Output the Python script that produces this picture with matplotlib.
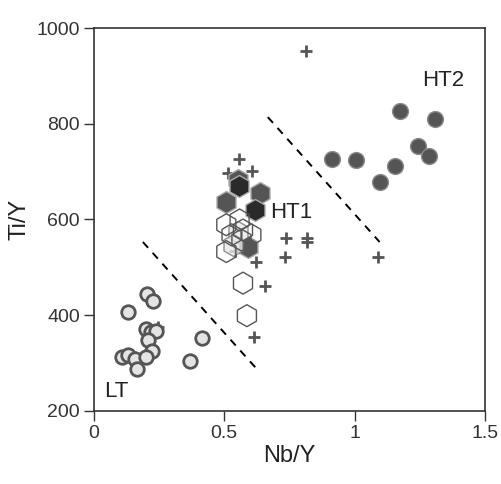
import matplotlib.pyplot as plt

plt.rcParams['font.family'] = ['Liberation Sans', 'DejaVu Sans']

# LT group (open circles)
lt_x = [0.204, 0.227, 0.129, 0.199, 0.218, 0.240, 0.208, 0.223, 0.106, 0.129, 0.157, 0.199, 0.164, 0.413, 0.368]
lt_y = [444, 430, 406, 371, 364, 367, 348, 325, 312, 317, 308, 312, 288, 352, 305]

# HT2 group (dark filled circles)
ht2_x = [1.176, 1.309, 1.243, 1.287, 1.154, 1.098, 1.004, 0.915]
ht2_y = [827, 811, 754, 733, 712, 679, 724, 726]

# HT1 group, dark hexagons
ht1d_x = [0.553, 0.506, 0.636, 0.591]
ht1d_y = [683, 637, 655, 542]
# HT1 group, black hexagons
ht1b_x = [0.556, 0.617]
ht1b_y = [669, 620]
# HT1 group, open hexagons
ht1o_x = [0.559, 0.508, 0.528, 0.604, 0.572, 0.508, 0.566, 0.572, 0.587]
ht1o_y = [599, 589, 568, 568, 578, 533, 557, 467, 399]
# HT1 group, pale hexagons
ht1p_x = [0.552, 0.533]
ht1p_y = [574, 547]

# other samples (crosses)
px = [0.557, 0.607, 0.515, 0.736, 0.817, 0.817, 0.734, 0.623, 0.655, 0.613, 0.540, 0.812, 1.088, 0.246]
py = [726, 702, 697, 561, 561, 552, 522, 511, 462, 355, 535, 952, 522, 376]

# dividing lines
line1_x = [0.188, 0.621]
line1_y = [553, 290]
line2_x = [0.667, 1.096]
line2_y = [814, 553]

fig = plt.figure(figsize=(5.02, 4.84), dpi=100)
ax = fig.add_axes([0.187, 0.151, 0.779, 0.791])

ax.plot(line1_x, line1_y, color='black', lw=1.4, ls=(0, (4, 3.5)))
ax.plot(line2_x, line2_y, color='black', lw=1.4, ls=(0, (4, 3.5)))

ax.scatter(px, py, marker='+', s=65, color='#555555', linewidths=2, zorder=2)

ax.scatter(lt_x, lt_y, s=95, facecolor='#e4e4e4', edgecolor='#555555', linewidths=2, zorder=3)
ax.scatter(ht2_x, ht2_y, s=130, facecolor='#555555', edgecolor='#8a8a8a', linewidths=1, zorder=3)

hex_s = 250
ax.scatter(ht1d_x, ht1d_y, marker='h', s=hex_s, facecolor='#555555', edgecolor='#aaaaaa', linewidths=1, zorder=3)
ax.scatter(ht1b_x, ht1b_y, marker='h', s=hex_s, facecolor='#2a2a2a', edgecolor='#aaaaaa', linewidths=1, zorder=3)
ax.scatter(ht1p_x, ht1p_y, marker='h', s=hex_s, facecolor='#e8e8e8', edgecolor='#777777', linewidths=1, alpha=0.8, zorder=4)
ax.scatter(ht1o_x, ht1o_y, marker='h', s=hex_s, facecolor='none', edgecolor='#555555', linewidths=1, zorder=5)

ax.text(1.26, 891, 'HT2', fontsize=16, color='#222222', va='center')
ax.text(0.675, 614, 'HT1', fontsize=16, color='#222222', va='center')
ax.text(0.04, 240, 'LT', fontsize=16, color='#222222', va='center')

ax.set_xlim(0, 1.5)
ax.set_ylim(200, 1000)
ax.set_xticks([0, 0.5, 1, 1.5])
ax.set_xticklabels(['0', '0.5', '1', '1.5'])
ax.set_yticks([200, 400, 600, 800, 1000])
ax.tick_params(direction='out', length=7, width=1, colors='#333333', labelsize=14, pad=3)
for sp in ax.spines.values():
    sp.set_color('#333333')
    sp.set_linewidth(1.2)
ax.set_xlabel('Nb/Y', fontsize=17, color='#222222', labelpad=2)
ax.set_ylabel('Ti/Y', fontsize=17, color='#222222', labelpad=4)

fig.savefig('out.png', dpi=100)
